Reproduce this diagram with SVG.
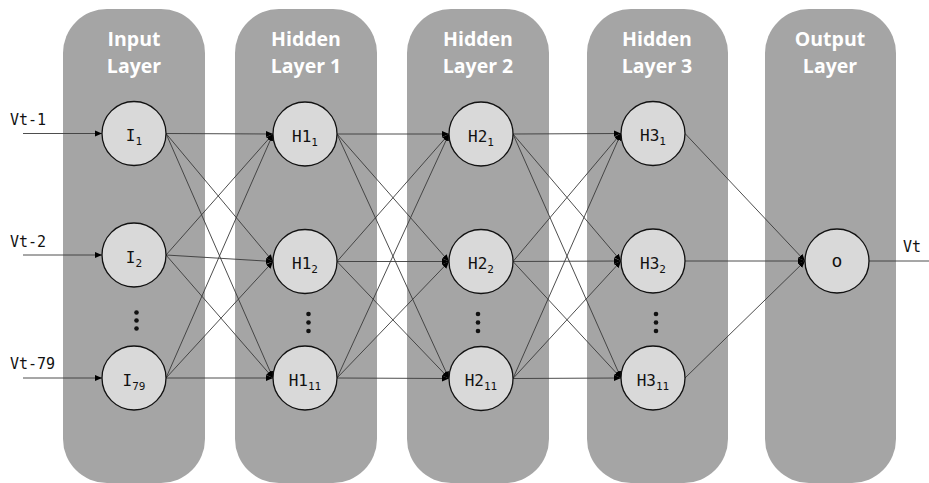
<svg xmlns="http://www.w3.org/2000/svg" width="929" height="483" viewBox="0 0 929 483">
<style>
.panel{fill:#a5a5a5}
.title{font-family:"Open Sans","Liberation Sans",sans-serif;font-weight:bold;font-size:19.5px;fill:#fff;text-anchor:middle}
.node circle{fill:#d9d9d9;stroke:#111;stroke-width:1.3}
.lbl{font-family:"DejaVu Sans Mono","Liberation Mono",monospace;font-size:16px;fill:#111;text-anchor:middle}
.sub{font-size:11px}
.big{font-size:18px}
.edge{stroke:#3a3a3a;stroke-width:0.9;fill:none;marker-end:url(#ah)}
.plain{stroke:#3a3a3a;stroke-width:0.9;fill:none}
.vt{font-family:"DejaVu Sans Mono","Liberation Mono",monospace;font-size:15px;fill:#111}
.dot{fill:#111}
</style>
<defs>
<marker id="ah" markerUnits="userSpaceOnUse" markerWidth="8" markerHeight="8" refX="7" refY="4" orient="auto">
<path d="M0,1 L7,4 L0,7 Z" fill="#000"/>
</marker>
</defs>
<g id="panels">
<rect class="panel" x="63" y="9" width="142" height="474" rx="44" ry="44"/>
<rect class="panel" x="235" y="9" width="142" height="474" rx="44" ry="44"/>
<rect class="panel" x="407" y="9" width="142" height="474" rx="44" ry="44"/>
<rect class="panel" x="587" y="9" width="141" height="474" rx="44" ry="44"/>
<rect class="panel" x="765" y="9" width="131" height="474" rx="44" ry="44"/>
<text class="title" x="134" y="46">Input</text>
<text class="title" x="134" y="73">Layer</text>
<text class="title" x="306" y="46">Hidden</text>
<text class="title" x="306" y="73">Layer 1</text>
<text class="title" x="478" y="46">Hidden</text>
<text class="title" x="478" y="73">Layer 2</text>
<text class="title" x="657" y="46">Hidden</text>
<text class="title" x="657" y="73">Layer 3</text>
<text class="title" x="830" y="46">Output</text>
<text class="title" x="830" y="73">Layer</text>
</g>
<g id="connectors">
<line class="edge" x1="23" y1="133.5" x2="102" y2="133.5"/>
<line class="edge" x1="23" y1="255" x2="102" y2="255"/>
<line class="edge" x1="23" y1="378" x2="102" y2="378"/>
<line class="edge" x1="166" y1="133.5" x2="273" y2="134"/>
<line class="edge" x1="166" y1="133.5" x2="273" y2="261.5"/>
<line class="edge" x1="166" y1="133.5" x2="273" y2="378"/>
<line class="edge" x1="166" y1="255" x2="273" y2="134"/>
<line class="edge" x1="166" y1="255" x2="273" y2="261.5"/>
<line class="edge" x1="166" y1="255" x2="273" y2="378"/>
<line class="edge" x1="166" y1="378" x2="273" y2="134"/>
<line class="edge" x1="166" y1="378" x2="273" y2="261.5"/>
<line class="edge" x1="166" y1="378" x2="273" y2="378"/>
<line class="edge" x1="337" y1="134" x2="449" y2="134"/>
<line class="edge" x1="337" y1="134" x2="449" y2="261.5"/>
<line class="edge" x1="337" y1="134" x2="449" y2="378.5"/>
<line class="edge" x1="337" y1="261.5" x2="449" y2="134"/>
<line class="edge" x1="337" y1="261.5" x2="449" y2="261.5"/>
<line class="edge" x1="337" y1="261.5" x2="449" y2="378.5"/>
<line class="edge" x1="337" y1="378" x2="449" y2="134"/>
<line class="edge" x1="337" y1="378" x2="449" y2="261.5"/>
<line class="edge" x1="337" y1="378" x2="449" y2="378.5"/>
<line class="edge" x1="513" y1="134" x2="621" y2="133.5"/>
<line class="edge" x1="513" y1="134" x2="621" y2="261"/>
<line class="edge" x1="513" y1="134" x2="621" y2="378"/>
<line class="edge" x1="513" y1="261.5" x2="621" y2="133.5"/>
<line class="edge" x1="513" y1="261.5" x2="621" y2="261"/>
<line class="edge" x1="513" y1="261.5" x2="621" y2="378"/>
<line class="edge" x1="513" y1="378.5" x2="621" y2="133.5"/>
<line class="edge" x1="513" y1="378.5" x2="621" y2="261"/>
<line class="edge" x1="513" y1="378.5" x2="621" y2="378"/>
<line class="edge" x1="685" y1="133.5" x2="805" y2="261"/>
<line class="edge" x1="685" y1="261" x2="805" y2="261"/>
<line class="edge" x1="685" y1="378" x2="805" y2="261"/>
<line class="plain" x1="869" y1="261" x2="929" y2="261"/>
</g>
<g id="input-labels">
<text class="vt" x="10" y="125">Vt-1</text>
<text class="vt" x="10" y="247">Vt-2</text>
<text class="vt" x="10" y="369">Vt-79</text>
<text class="vt" x="903" y="252">Vt</text>
</g>
<g id="I1" class="node"><circle cx="134" cy="133.5" r="32"/><text class="lbl" x="134" y="141">I<tspan class="sub" dy="4">1</tspan></text></g>
<g id="I2" class="node"><circle cx="134" cy="255" r="32"/><text class="lbl" x="134" y="262.5">I<tspan class="sub" dy="4">2</tspan></text></g>
<g id="I79" class="node"><circle cx="134" cy="378" r="32"/><text class="lbl" x="134" y="385.5">I<tspan class="sub" dy="4">79</tspan></text></g>
<g id="H1_1" class="node"><circle cx="305" cy="134" r="32"/><text class="lbl" x="305" y="141.5">H1<tspan class="sub" dy="4">1</tspan></text></g>
<g id="H1_2" class="node"><circle cx="305" cy="261.5" r="32"/><text class="lbl" x="305" y="269">H1<tspan class="sub" dy="4">2</tspan></text></g>
<g id="H1_11" class="node"><circle cx="305" cy="378" r="32"/><text class="lbl" x="305" y="385.5">H1<tspan class="sub" dy="4">11</tspan></text></g>
<g id="H2_1" class="node"><circle cx="481" cy="134" r="32"/><text class="lbl" x="481" y="141.5">H2<tspan class="sub" dy="4">1</tspan></text></g>
<g id="H2_2" class="node"><circle cx="481" cy="261.5" r="32"/><text class="lbl" x="481" y="269">H2<tspan class="sub" dy="4">2</tspan></text></g>
<g id="H2_11" class="node"><circle cx="481" cy="378.5" r="32"/><text class="lbl" x="481" y="386">H2<tspan class="sub" dy="4">11</tspan></text></g>
<g id="H3_1" class="node"><circle cx="653" cy="133.5" r="32"/><text class="lbl" x="653" y="141">H3<tspan class="sub" dy="4">1</tspan></text></g>
<g id="H3_2" class="node"><circle cx="653" cy="261" r="32"/><text class="lbl" x="653" y="268.5">H3<tspan class="sub" dy="4">2</tspan></text></g>
<g id="H3_11" class="node"><circle cx="653" cy="378" r="32"/><text class="lbl" x="653" y="385.5">H3<tspan class="sub" dy="4">11</tspan></text></g>
<g id="O" class="node"><circle cx="837" cy="261" r="32"/><text class="lbl big" x="837" y="267">o</text></g>
<g id="ellipses">
<circle class="dot" cx="136.5" cy="312.5" r="2.3"/><circle class="dot" cx="136.5" cy="320.5" r="2.3"/><circle class="dot" cx="136.5" cy="328.5" r="2.3"/>
<circle class="dot" cx="308.5" cy="314" r="2.3"/><circle class="dot" cx="308.5" cy="322.5" r="2.3"/><circle class="dot" cx="308.5" cy="331" r="2.3"/>
<circle class="dot" cx="478" cy="314" r="2.3"/><circle class="dot" cx="478" cy="322.5" r="2.3"/><circle class="dot" cx="478" cy="331" r="2.3"/>
<circle class="dot" cx="656" cy="314" r="2.3"/><circle class="dot" cx="656" cy="322.5" r="2.3"/><circle class="dot" cx="656" cy="331" r="2.3"/>
</g>
</svg>
